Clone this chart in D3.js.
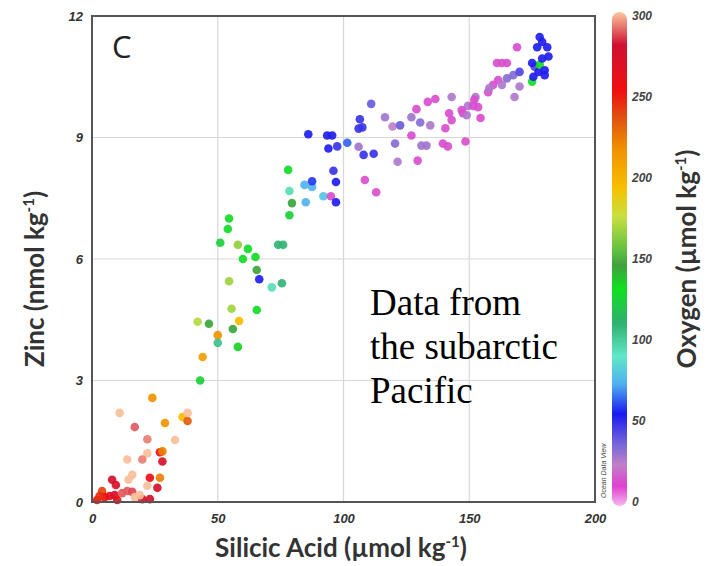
<!DOCTYPE html>
<html>
<head>
<meta charset="utf-8">
<script src="https://cdn.jsdelivr.net/npm/d3@7"></script>
<style>
  body { margin: 0; background: #fff; }
  svg { display: block; }
</style>
</head>
<body>
<svg width="712" height="566"></svg>
<script>
// silicic acid (umol/kg), zinc (nmol/kg), oxygen (umol/kg) for each sample
const silicic = [
  43, 24, 11, 17, 29, 36, 38, 38, 22, 33, 22, 27, 28, 28, 14, 20, 8, 9.5, 14.5, 16,
  23, 27, 26, 22, 4, 5, 7, 9, 12, 14, 16, 17, 20, 23, 19, 2, 3, 10,
  54.5, 54, 51, 58, 62, 60, 65, 54.5, 55.5, 42, 46.5, 58.5, 56, 50, 50, 58, 44, 65.5, 66.5, 71.5,
  75.5, 65.5, 74, 76, 78.5, 79.5, 78.5, 85, 84.5, 87.5, 87.5, 92, 95, 97, 97, 108.5, 113, 78,
  86, 93.5, 95.5, 94, 97.5, 101.5, 96, 106, 108, 112, 106.5, 107.5, 106, 111, 116.5, 119.5, 122.5, 120.5,
  127, 121.5, 129.5, 127, 129, 130.5, 131, 133, 133.5, 136.5, 134.5, 140.5, 139.5, 141.5, 143, 142, 143, 147.5,
  148.5, 149.5, 152.5, 153.5, 147, 149, 152, 154.5, 151.5, 157.5, 159.5, 158, 161.5, 163, 165, 167.5, 170, 168,
  170, 161, 163, 165, 169, 175, 175.5, 176, 177.5, 180, 178, 179, 175, 177, 178, 181, 179, 181.5, 180
];
const zinc = [
  3.0, 2.57, 2.2, 1.85, 1.95, 2.1, 2.0, 2.2, 1.55, 1.53, 1.2, 1.23, 1.25, 1.0, 1.05, 1.05, 0.55, 0.42, 0.55, 0.67,
  0.6, 0.6, 0.35, 0.4, 0.27, 0.12, 0.15, 0.17, 0.22, 0.27, 0.25, 0.12, 0.07, 0.07, 0.17, 0.05, 0.15, 0.05,
  7.0, 6.74, 6.4, 6.35, 6.25, 6.0, 6.05, 5.45, 4.77, 4.45, 4.4, 4.47, 4.27, 4.12, 3.93, 3.83, 3.58, 5.73, 5.5, 5.3,
  5.4, 4.74, 6.35, 6.35, 7.08, 7.38, 7.68, 7.4, 7.83, 7.78, 7.92, 7.55, 7.55, 7.4, 7.9, 7.95, 7.65, 8.2,
  9.08, 9.05, 9.05, 8.73, 8.78, 8.87, 8.18, 8.77, 8.57, 8.6, 9.45, 9.25, 9.22, 9.83, 9.5, 9.27, 9.3, 8.85,
  9.05, 8.4, 8.43, 9.5, 9.7, 9.37, 8.8, 8.8, 9.88, 9.95, 9.3, 9.23, 8.85, 8.78, 10.0, 9.6, 9.43, 9.6,
  8.9, 9.78, 10.0, 9.75, 9.68, 9.55, 9.93, 9.48, 9.78, 10.12, 10.3, 10.22, 10.42, 10.3, 10.46, 10.54, 10.62, 10.0,
  10.26, 10.84, 10.84, 10.84, 11.23, 10.38, 10.5, 10.75, 10.62, 10.54, 10.8, 10.95, 10.84, 11.23, 11.48, 11.23, 11.36, 11.0, 10.66
];
const oxygen = [
  125, 215, 299, 288, 215, 195, 232, 299, 292, 299, 299, 255, 222, 275, 299, 292, 275, 272, 299, 299,
  258, 222, 275, 299, 238, 255, 262, 275, 288, 288, 286, 299, 275, 275, 299, 250, 245, 260,
  130, 130, 125, 165, 130, 130, 130, 168, 168, 172, 145, 195, 145, 215, 105, 135, 210, 145, 55, 95,
  110, 130, 110, 110, 125, 145, 95, 75, 75, 75, 60, 80, 15, 55, 55, 15, 15, 130,
  55, 55, 55, 55, 50, 65, 50, 30, 50, 50, 50, 50, 50, 40, 30, 25, 40, 35,
  15, 28, 15, 30, 15, 35, 30, 30, 15, 15, 28, 15, 15, 15, 28, 15, 15, 15,
  15, 28, 28, 15, 15, 28, 15, 15, 15, 15, 15, 28, 15, 28, 35, 35, 45, 28,
  28, 15, 15, 15, 15, 130, 55, 45, 55, 55, 130, 55, 55, 55, 55, 55, 55, 55, 55
];

const xTicks = [0, 50, 100, 150, 200];
const yTicks = [0, 3, 6, 9, 12];
const oxyTicks = [0, 50, 100, 150, 200, 250, 300];

// Ocean Data View style palette
const oxyStops = [0, 12, 25, 37, 56, 74, 91, 111, 132, 146, 155, 176, 193, 217, 236, 252, 280, 300];
const oxyColors = ["#f4b8f0", "#e040d0", "#c080c8", "#7868d8", "#1a1af0", "#50b0f0", "#60e8c8", "#30b070",
  "#10e020", "#40a040", "#60c040", "#c8e040", "#f8c000", "#f09000", "#e05010", "#f01010", "#d01030", "#fbc8a0"];

const samples = silicic.map(function(s, i) { return {si: s, zn: zinc[i], ox: oxygen[i]}; });

let svg = d3.select("svg");
const pL = 92, pR = 595, pT = 16, pB = 502;

let x = d3.scaleLinear().domain([0, 200]).range([pL, pR]);
let y = d3.scaleLinear().domain([0, 12]).range([pB, pT]);
let color = d3.scaleLinear().domain(oxyStops).range(oxyColors);
let cbY = d3.scaleLinear().domain([0, 300]).range([pB, pT]);

// grid
svg.append("g")
    .selectAll("line")
    .data(xTicks.slice(1, -1))
    .enter()
    .append("line")
    .attr("x1", d => x(d)).attr("x2", d => x(d))
    .attr("y1", pT).attr("y2", pB)
    .style("stroke", "#d8d8d8")
    .style("stroke-width", 1.2);
svg.append("g")
    .selectAll("line")
    .data(yTicks.slice(1, -1))
    .enter()
    .append("line")
    .attr("x1", pL).attr("x2", pR)
    .attr("y1", d => y(d)).attr("y2", d => y(d))
    .style("stroke", "#d8d8d8")
    .style("stroke-width", 1.2);

// points
svg.append("g")
    .selectAll("circle")
    .data(samples)
    .enter()
    .append("circle")
    .attr("cx", d => x(d.si))
    .attr("cy", d => y(d.zn))
    .attr("r", 4.3)
    .style("fill", d => color(d.ox))
    .style("opacity", 0.92);

// frame
svg.append("rect")
    .attr("x", pL).attr("y", pT)
    .attr("width", pR - pL).attr("height", pB - pT)
    .style("fill", "none")
    .style("stroke", "#555")
    .style("stroke-width", 2);

// axes
let xAxis = svg.append("g")
    .attr("transform", "translate(0," + pB + ")")
    .call(d3.axisBottom(x).tickValues(xTicks).tickSize(0).tickPadding(12));
let yAxis = svg.append("g")
    .attr("transform", "translate(" + pL + ",0)")
    .call(d3.axisLeft(y).tickValues(yTicks).tickSize(0).tickPadding(9));
[xAxis, yAxis].forEach(function(a) {
    a.select(".domain").remove();
    a.selectAll("text")
        .style("font-family", "Liberation Sans, Arial, sans-serif")
        .style("font-size", "13px")
        .style("font-weight", "bold")
        .style("font-style", "italic")
        .style("fill", "#333");
});

// axis titles
svg.append("text")
    .attr("x", 341).attr("y", 557)
    .attr("text-anchor", "middle")
    .style("font-family", "Lato, sans-serif")
    .style("font-weight", "bold")
    .style("font-size", "26px")
    .style("fill", "#333")
    .html("Silicic Acid (µmol kg<tspan dy='-10' font-size='15'>-1</tspan><tspan dy='10'>)</tspan>");

svg.append("text")
    .attr("transform", "translate(44,279) rotate(-90)")
    .attr("text-anchor", "middle")
    .style("font-family", "Lato, sans-serif")
    .style("font-weight", "bold")
    .style("font-size", "26px")
    .style("fill", "#333")
    .html("Zinc (nmol kg<tspan dy='-10' font-size='15'>-1</tspan><tspan dy='10'>)</tspan>");

svg.append("text")
    .attr("x", 112).attr("y", 58)
    .style("font-family", "Open Sans, sans-serif")
    .style("font-size", "31px")
    .style("fill", "#222")
    .text("C");

// note
let note = svg.append("text")
    .style("font-family", "Liberation Serif, Times New Roman, serif")
    .style("font-size", "37px")
    .style("fill", "#000");
["Data from", "the subarctic", "Pacific"].forEach(function(t, i) {
    note.append("tspan").attr("x", 370).attr("y", 315 + i * 44).text(t);
});

// color bar
let grad = svg.append("defs").append("linearGradient")
    .attr("id", "oxgrad")
    .attr("x1", 0).attr("y1", 1).attr("x2", 0).attr("y2", 0);
grad.selectAll("stop")
    .data(oxyStops)
    .enter()
    .append("stop")
    .attr("offset", d => d / 300)
    .attr("stop-color", d => color(d));
svg.append("rect")
    .attr("x", 612).attr("y", pT - 4)
    .attr("width", 15).attr("height", pB - pT + 8)
    .attr("rx", 7.5)
    .style("fill", "url(#oxgrad)");

svg.append("g")
    .selectAll("text")
    .data(oxyTicks)
    .enter()
    .append("text")
    .attr("x", 632)
    .attr("y", d => cbY(d) + 4)
    .style("font-family", "Liberation Sans, Arial, sans-serif")
    .style("font-size", "12px")
    .style("font-weight", "bold")
    .style("font-style", "italic")
    .style("fill", "#444")
    .text(d => d);

svg.append("text")
    .attr("transform", "translate(696,259) rotate(-90)")
    .attr("text-anchor", "middle")
    .style("font-family", "Lato, sans-serif")
    .style("font-weight", "bold")
    .style("font-size", "26px")
    .style("fill", "#333")
    .html("Oxygen (µmol kg<tspan dy='-10' font-size='15'>-1</tspan><tspan dy='10'>)</tspan>");

svg.append("text")
    .attr("transform", "translate(606,498) rotate(-90)")
    .style("font-family", "Liberation Sans, Arial, sans-serif")
    .style("font-size", "7px")
    .style("font-style", "italic")
    .style("fill", "#444")
    .text("Ocean Data View");
</script>
</body>
</html>
